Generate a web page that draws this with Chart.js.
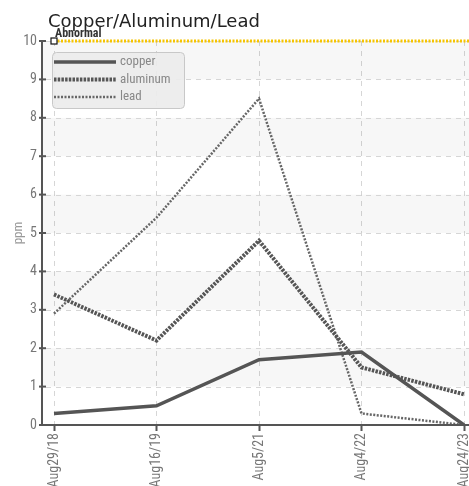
<!DOCTYPE html>
<html>
<head>
<meta charset="utf-8">
<script src="https://cdn.jsdelivr.net/npm/chart.js@4.4.1/dist/chart.umd.min.js"></script>
<style>
  html, body { margin: 0; padding: 0; background: #fff; }
  #wrap { width: 469px; height: 486px; position: relative; }
</style>
</head>
<body>
<div id="wrap"><canvas id="oilChart"></canvas></div>
<script>
// sample dates and values (ppm)
const dates = ['Aug29/18', 'Aug16/19', 'Aug5/21', 'Aug4/22', 'Aug24/23'];
const copper = [0.3, 0.5, 1.7, 1.9, 0.0];
const aluminum = [3.4, 2.2, 4.8, 1.5, 0.8];
const lead = [2.9, 5.4, 8.5, 0.3, 0.0];
const yTicks = [0, 1, 2, 3, 4, 5, 6, 7, 8, 9, 10];
const abnormalLimit = 10;

const narrow = "'Liberation Sans Narrow', 'Roboto Condensed', 'DejaVu Sans Condensed', sans-serif";
const AXIS_GAP = 12; // axis line sits a bit left of the first sample

// bands, horizontal grid, axis lines, limit line, legend box and title
const decor = {
    id: 'decor',
    beforeDatasetsDraw(chart) {
        const ctx = chart.ctx, a = chart.chartArea, y = chart.scales.y;
        const x0 = a.left - AXIS_GAP, x1 = chart.width;
        ctx.save();
        // alternating bands
        for (let v = 1; v < 10; v += 2) {
            const top = y.getPixelForValue(v + 1), bot = y.getPixelForValue(v);
            ctx.fillStyle = 'rgba(0,0,0,0.03)';
            ctx.fillRect(x0, top, x1 - x0, bot - top);
        }
        // horizontal dashed grid
        ctx.strokeStyle = '#d6d6d6';
        ctx.lineWidth = 1;
        ctx.setLineDash([5, 5]);
        yTicks.forEach(v => {
            if (v === 0) return;
            const py = Math.round(y.getPixelForValue(v)) + 0.5;
            ctx.beginPath(); ctx.moveTo(x0 + 4, py); ctx.lineTo(x1, py); ctx.stroke();
        });
        ctx.restore();
    },
    afterDatasetsDraw(chart) {
        const ctx = chart.ctx, a = chart.chartArea, y = chart.scales.y;
        const x0 = a.left - AXIS_GAP, x1 = chart.width;
        ctx.save();
        // abnormal limit
        const ly = y.getPixelForValue(abnormalLimit);
        ctx.strokeStyle = '#f5c400';
        ctx.lineWidth = 3;
        ctx.setLineDash([2, 1.5]);
        ctx.beginPath(); ctx.moveTo(a.left, ly); ctx.lineTo(x1, ly); ctx.stroke();
        ctx.setLineDash([]);
        ctx.fillStyle = '#fff'; ctx.strokeStyle = '#111'; ctx.lineWidth = 1.2;
        ctx.fillRect(a.left - 3, ly - 3, 6, 6);
        ctx.strokeRect(a.left - 3, ly - 3, 6, 6);
        ctx.fillStyle = '#333';
        ctx.font = "bold 12px " + narrow;
        ctx.textBaseline = 'alphabetic';
        ctx.fillText('Abnormal', a.left + 1, ly - 4);

        // y axis line + ticks
        ctx.strokeStyle = '#555';
        ctx.lineWidth = 2;
        ctx.beginPath(); ctx.moveTo(x0, a.top); ctx.lineTo(x0, a.bottom); ctx.stroke();
        yTicks.forEach(v => {
            const py = y.getPixelForValue(v);
            ctx.beginPath(); ctx.moveTo(x0 - 3, py); ctx.lineTo(x0 + 4, py); ctx.stroke();
        });
        // x axis line
        ctx.beginPath(); ctx.moveTo(x0, a.bottom); ctx.lineTo(x1, a.bottom); ctx.stroke();

        // legend box
        const lx = a.left - 2, ly2 = a.top + 11, lw = 132, lh = 56;
        ctx.fillStyle = 'rgba(236,236,236,0.92)';
        ctx.strokeStyle = '#c8c8c8';
        ctx.lineWidth = 1;
        ctx.beginPath();
        ctx.roundRect(lx + 0.5, ly2 + 0.5, lw, lh, 4);
        ctx.fill(); ctx.stroke();
        ctx.font = "13px " + narrow;
        ctx.textBaseline = 'middle';
        chart.data.datasets.forEach((ds, i) => {
            const ry = ly2 + 10 + i * 17.5;
            ctx.strokeStyle = ds.borderColor;
            ctx.lineWidth = ds.borderWidth;
            ctx.setLineDash(ds.borderDash || []);
            ctx.beginPath(); ctx.moveTo(lx + 2, ry); ctx.lineTo(lx + 64, ry); ctx.stroke();
            ctx.setLineDash([]);
            ctx.fillStyle = '#888';
            ctx.fillText(ds.label, lx + 68, ry);
        });

        // title
        ctx.fillStyle = '#222';
        ctx.font = "18px 'DejaVu Sans', sans-serif";
        ctx.textBaseline = 'alphabetic';
        ctx.fillText('Copper/Aluminum/Lead', 48, 27);
        ctx.restore();
    }
};

const ctx = document.getElementById('oilChart').getContext('2d');
const oilChart = new Chart(ctx, {
    type: 'line',
    data: {
        labels: dates,
        datasets: [
            {
                label: 'copper',
                data: copper,
                borderColor: '#555',
                borderWidth: 3.5,
                borderDash: [],
                pointRadius: 0,
                tension: 0,
                fill: false
            },
            {
                label: 'aluminum',
                data: aluminum,
                borderColor: '#555',
                borderWidth: 4,
                borderDash: [2.5, 1.2],
                pointRadius: 0,
                tension: 0,
                fill: false
            },
            {
                label: 'lead',
                data: lead,
                borderColor: '#666',
                borderWidth: 2.5,
                borderDash: [2, 1.5],
                pointRadius: 0,
                tension: 0,
                fill: false
            }
        ]
    },
    options: {
        responsive: true,
        maintainAspectRatio: false,
        animation: false,
        layout: { padding: { top: 41, left: 7, right: 0, bottom: 0 } },
        plugins: {
            legend: { display: false },
            title: { display: false },
            tooltip: { enabled: false }
        },
        scales: {
            x: {
                offset: false,
                border: { display: false, dash: [5, 5] },
                grid: {
                    color: '#d6d6d6',
                    tickColor: '#555',
                    tickWidth: 2,
                    tickLength: 6,
                    tickBorderDash: [],
                    drawTicks: true
                },
                ticks: {
                    color: '#777',
                    font: { family: narrow, size: 14 },
                    minRotation: 90,
                    maxRotation: 90,
                    padding: 2,
                    autoSkip: false
                },
                afterFit(scale) {
                    scale.height = 61;
                    scale.paddingRight = 5;
                    scale.paddingLeft = 0;
                }
            },
            y: {
                min: 0,
                max: 10,
                border: { display: false },
                grid: { display: false, drawTicks: false },
                ticks: {
                    stepSize: 1,
                    color: '#777',
                    font: { family: narrow, size: 14 },
                    padding: 17
                },
                title: {
                    display: true,
                    text: 'ppm',
                    color: '#999',
                    font: { family: narrow, size: 13 }
                },
                afterFit(scale) { scale.width = 47; }
            }
        }
    },
    plugins: [decor]
});
</script>
</body>
</html>
